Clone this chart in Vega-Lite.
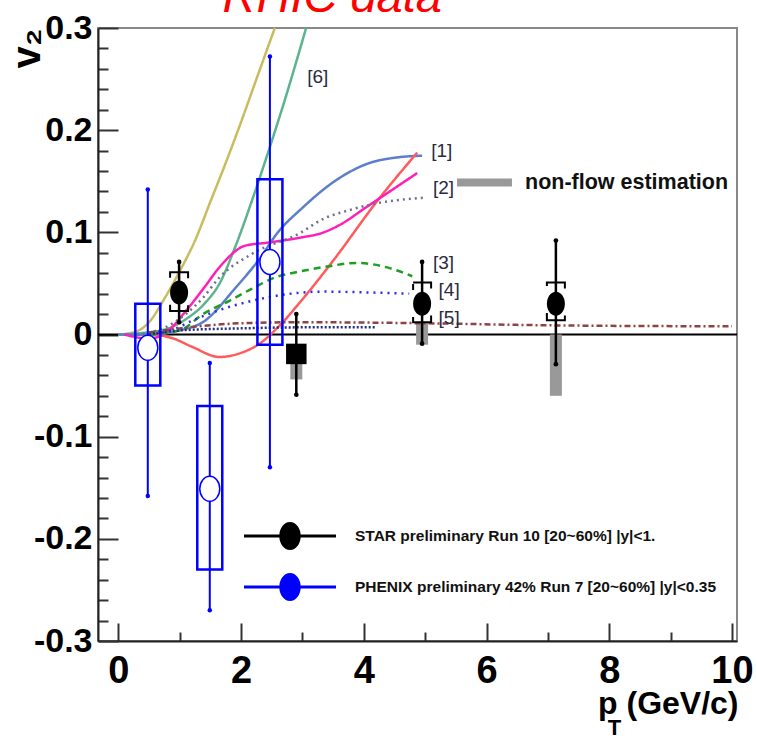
{
  "$schema": "https://vega.github.io/schema/vega-lite/v6.json",
  "width": 639,
  "height": 613,
  "autosize": {"type": "none"},
  "padding": {"left": 98, "top": 28, "right": 20, "bottom": 97},
  "background": "white",
  "config": {"view": {"stroke": "#888888", "strokeWidth": 2}},
  "datasets": {
    "curves": [
      {"c": "6a", "x": 0, "y": 0}, {"c": "6a", "x": 0.25, "y": 0.002}, {"c": "6a", "x": 0.5, "y": 0.012}, {"c": "6a", "x": 0.75, "y": 0.035}, {"c": "6a", "x": 1.0, "y": 0.062}, {"c": "6a", "x": 1.25, "y": 0.092}, {"c": "6a", "x": 1.5, "y": 0.13}, {"c": "6a", "x": 1.75, "y": 0.168}, {"c": "6a", "x": 2.0, "y": 0.208}, {"c": "6a", "x": 2.25, "y": 0.25}, {"c": "6a", "x": 2.55, "y": 0.3},
      {"c": "6b", "x": 0, "y": 0}, {"c": "6b", "x": 0.7, "y": 0.004}, {"c": "6b", "x": 1.1, "y": 0.015}, {"c": "6b", "x": 1.4, "y": 0.03}, {"c": "6b", "x": 1.65, "y": 0.05}, {"c": "6b", "x": 1.9, "y": 0.085}, {"c": "6b", "x": 2.2, "y": 0.135}, {"c": "6b", "x": 2.45, "y": 0.18}, {"c": "6b", "x": 2.71, "y": 0.229}, {"c": "6b", "x": 3.06, "y": 0.3},
      {"c": "1", "x": 0, "y": 0}, {"c": "1", "x": 0.5, "y": 0}, {"c": "1", "x": 1.0, "y": 0.004}, {"c": "1", "x": 1.4, "y": 0.013}, {"c": "1", "x": 1.9, "y": 0.045}, {"c": "1", "x": 2.3, "y": 0.074}, {"c": "1", "x": 2.6, "y": 0.1}, {"c": "1", "x": 3.0, "y": 0.124}, {"c": "1", "x": 3.5, "y": 0.149}, {"c": "1", "x": 4.1, "y": 0.168}, {"c": "1", "x": 4.5, "y": 0.173}, {"c": "1", "x": 4.95, "y": 0.175},
      {"c": "1r", "x": 0.6, "y": 0}, {"c": "1r", "x": 0.9, "y": -0.004}, {"c": "1r", "x": 1.2, "y": -0.012}, {"c": "1r", "x": 1.65, "y": -0.022}, {"c": "1r", "x": 2.0, "y": -0.018}, {"c": "1r", "x": 2.3, "y": -0.009}, {"c": "1r", "x": 2.6, "y": 0.007}, {"c": "1r", "x": 2.98, "y": 0.033}, {"c": "1r", "x": 3.51, "y": 0.073}, {"c": "1r", "x": 4.21, "y": 0.13}, {"c": "1r", "x": 4.87, "y": 0.178},
      {"c": "2", "x": 0.1, "y": 0}, {"c": "2", "x": 0.5, "y": -0.004}, {"c": "2", "x": 0.8, "y": 0.003}, {"c": "2", "x": 1.1, "y": 0.023}, {"c": "2", "x": 1.4, "y": 0.046}, {"c": "2", "x": 1.65, "y": 0.066}, {"c": "2", "x": 2.07, "y": 0.087}, {"c": "2", "x": 2.45, "y": 0.09}, {"c": "2", "x": 2.98, "y": 0.095}, {"c": "2", "x": 3.3, "y": 0.099}, {"c": "2", "x": 3.6, "y": 0.107}, {"c": "2", "x": 4.05, "y": 0.125}, {"c": "2", "x": 4.87, "y": 0.158},
      {"c": "2d", "x": 0.3, "y": 0}, {"c": "2d", "x": 0.8, "y": 0.008}, {"c": "2d", "x": 1.1, "y": 0.02}, {"c": "2d", "x": 1.38, "y": 0.036}, {"c": "2d", "x": 1.65, "y": 0.056}, {"c": "2d", "x": 2.18, "y": 0.079}, {"c": "2d", "x": 2.98, "y": 0.1}, {"c": "2d", "x": 3.3, "y": 0.112}, {"c": "2d", "x": 3.78, "y": 0.122}, {"c": "2d", "x": 4.1, "y": 0.127}, {"c": "2d", "x": 5.0, "y": 0.134},
      {"c": "3", "x": 0.5, "y": 0}, {"c": "3", "x": 1.0, "y": 0.004}, {"c": "3", "x": 1.38, "y": 0.02}, {"c": "3", "x": 1.81, "y": 0.033}, {"c": "3", "x": 2.18, "y": 0.045}, {"c": "3", "x": 2.61, "y": 0.057}, {"c": "3", "x": 2.82, "y": 0.06}, {"c": "3", "x": 3.35, "y": 0.066}, {"c": "3", "x": 3.89, "y": 0.07}, {"c": "3", "x": 4.42, "y": 0.065}, {"c": "3", "x": 4.79, "y": 0.057},
      {"c": "4", "x": 0.5, "y": 0}, {"c": "4", "x": 0.9, "y": 0.005}, {"c": "4", "x": 1.22, "y": 0.014}, {"c": "4", "x": 1.65, "y": 0.024}, {"c": "4", "x": 2.18, "y": 0.033}, {"c": "4", "x": 2.82, "y": 0.04}, {"c": "4", "x": 3.35, "y": 0.042}, {"c": "4", "x": 4.15, "y": 0.041}, {"c": "4", "x": 4.74, "y": 0.04},
      {"c": "5a", "x": 0.5, "y": 0.002}, {"c": "5a", "x": 1.0, "y": 0.006}, {"c": "5a", "x": 2.0, "y": 0.011}, {"c": "5a", "x": 3.0, "y": 0.012}, {"c": "5a", "x": 5.0, "y": 0.011}, {"c": "5a", "x": 7.0, "y": 0.009}, {"c": "5a", "x": 10.0, "y": 0.008},
      {"c": "5b", "x": 0.5, "y": 0}, {"c": "5b", "x": 1.0, "y": 0.004}, {"c": "5b", "x": 2.0, "y": 0.006}, {"c": "5b", "x": 3.0, "y": 0.007}, {"c": "5b", "x": 4.2, "y": 0.007}
    ],
    "star": [
      {"exp": "STAR preliminary Run 10 [20~60%] |y|<1.", "x": 0.99, "y": 0.041, "lo": 0.012, "hi": 0.071, "slo": 0.023, "shi": 0.061},
      {"exp": "STAR preliminary Run 10 [20~60%] |y|<1.", "x": 2.9, "y": -0.019, "lo": -0.059, "hi": 0.02, "slo": null, "shi": null},
      {"exp": "STAR preliminary Run 10 [20~60%] |y|<1.", "x": 4.95, "y": 0.03, "lo": -0.009, "hi": 0.071, "slo": 0.012, "shi": 0.051},
      {"exp": "STAR preliminary Run 10 [20~60%] |y|<1.", "x": 7.13, "y": 0.03, "lo": -0.029, "hi": 0.092, "slo": 0.014, "shi": 0.051}
    ],
    "phenix": [
      {"exp": "PHENIX preliminary 42% Run 7 [20~60%] |y|<0.35", "x": 0.48, "y": -0.013, "lo": -0.158, "hi": 0.142, "blo": -0.05, "bhi": 0.03},
      {"exp": "PHENIX preliminary 42% Run 7 [20~60%] |y|<0.35", "x": 1.49, "y": -0.151, "lo": -0.27, "hi": -0.028, "blo": -0.23, "bhi": -0.07},
      {"exp": "PHENIX preliminary 42% Run 7 [20~60%] |y|<0.35", "x": 2.47, "y": 0.071, "lo": -0.13, "hi": 0.272, "blo": -0.01, "bhi": 0.152}
    ],
    "nonflow": [
      {"nf": "non-flow estimation", "x": 2.9, "lo": -0.044, "hi": -0.028},
      {"nf": "non-flow estimation", "x": 4.95, "lo": -0.01, "hi": 0.012},
      {"nf": "non-flow estimation", "x": 7.13, "lo": -0.06, "hi": 0.0}
    ],
    "labels": [
      {"x": 3.25, "y": 0.252, "t": "[6]"},
      {"x": 5.27, "y": 0.18, "t": "[1]"},
      {"x": 5.3, "y": 0.143, "t": "[2]"},
      {"x": 5.3, "y": 0.07, "t": "[3]"},
      {"x": 5.39, "y": 0.044, "t": "[4]"},
      {"x": 5.39, "y": 0.016, "t": "[5]"}
    ]
  },
  "resolve": {"axis": {"x": "independent", "y": "independent"}},
  "layer": [
    {
      "data": {"values": [{}]},
      "mark": {"type": "rule", "color": "black", "strokeWidth": 2},
      "encoding": {"y": {"datum": 0, "type": "quantitative", "scale": {"domain": [-0.3, 0.3], "nice": false, "zero": false}, "axis": null}}
    },
    {
      "data": {"name": "nonflow"},
      "mark": {"type": "bar", "width": 12, "opacity": 1},
      "encoding": {
        "x": {"field": "x", "type": "quantitative", "scale": {"domain": [-0.25, 10], "nice": false, "zero": false}, "axis": null},
        "y": {"field": "lo", "type": "quantitative", "scale": {"domain": [-0.3, 0.3], "nice": false, "zero": false},
          "axis": {"orient": "left", "values": [-0.3, -0.2, -0.1, 0, 0.1, 0.2, 0.3], "ticks": false, "domain": false, "grid": false, "title": null,
            "labelExpr": "abs(datum.value) < 1e-9 ? '0' : (datum.value < 0 ? '-' + format(-datum.value, '.1f') : format(datum.value, '.1f'))",
            "labelFont": "Liberation Sans", "labelFontSize": 34, "labelFontWeight": "bold", "labelColor": "black",
            "labelPadding": 6, "labelOverlap": false, "labelFlush": false, "labelBaseline": "middle"}},
        "y2": {"field": "hi"},
        "fill": {"field": "nf", "type": "nominal", "scale": {"range": ["#999999"]}, "legend": {"orient": "none", "legendX": 368, "legendY": 136, "title": null, "padding": 0, "symbolType": "M -1.5,-0.22 L 1.5,-0.22 L 1.5,0.22 L -1.5,0.22 Z", "symbolSize": 1340, "symbolStrokeWidth": 0, "labelOffset": 22, "labelFont": "Liberation Sans", "labelFontSize": 21.5, "labelFontWeight": "bold", "labelColor": "#111111", "labelLimit": 600}}
      }
    },
    {
      "data": {"name": "curves"},
      "mark": {"type": "line", "interpolate": "monotone"},
      "encoding": {
        "x": {"field": "x", "type": "quantitative", "scale": {"domain": [-0.25, 10], "nice": false, "zero": false},
          "axis": {"orient": "bottom", "values": [0, 0.5, 1, 1.5, 2, 2.5, 3, 3.5, 4, 4.5, 5, 5.5, 6, 6.5, 7, 7.5, 8, 8.5, 9, 9.5, 10],
            "tickSize": {"condition": {"test": "datum.value % 2 === 0", "value": -18}, "value": -9},
            "tickWidth": 2, "tickColor": "#333333", "domainColor": "#222222", "domainWidth": 2, "grid": false,
            "labelExpr": "datum.value % 2 === 0 ? datum.label : ''", "format": "d",
            "labelFont": "Liberation Sans", "labelFontSize": 38, "labelFontWeight": "bold", "labelColor": "black",
            "labelPadding": 29, "labelOverlap": false, "labelFlush": false, "labelBaseline": "top",
            "title": "p   (GeV/c)", "titleFont": "Liberation Sans", "titleFontSize": 32, "titleFontWeight": "bold", "titleColor": "black",
            "titleAlign": "right", "titleAnchor": null, "titleX": 640, "titleY": 72, "titleBaseline": "alphabetic"}},
        "y": {"field": "y", "type": "quantitative", "scale": {"domain": [-0.3, 0.3], "nice": false, "zero": false},
          "axis": {"orient": "left", "values": [-0.3, -0.28, -0.26, -0.24, -0.22, -0.2, -0.18, -0.16, -0.14, -0.12, -0.1, -0.08, -0.06, -0.04, -0.02, 0, 0.02, 0.04, 0.06, 0.08, 0.1, 0.12, 0.14, 0.16, 0.18, 0.2, 0.22, 0.24, 0.26, 0.28, 0.3],
            "tickSize": {"condition": {"test": "abs(datum.value*10 - round(datum.value*10)) < 1e-6", "value": -20}, "value": -10},
            "tickWidth": 2, "tickColor": "#333333", "domainColor": "#222222", "domainWidth": 2, "grid": false, "labels": false,
            "title": "v₂", "titleFont": "Liberation Sans", "titleFontSize": 40, "titleFontWeight": "bold", "titleColor": "black",
            "titleAngle": -90, "titleAlign": "center", "titleBaseline": "middle", "titleAnchor": null, "titleX": -71, "titleY": 20}},
        "detail": {"field": "c"},
        "stroke": {"field": "c", "type": "nominal", "legend": null, "scale": {"domain": ["6a", "6b", "1", "1r", "2", "2d", "3", "4", "5a", "5b"], "range": ["#c8bc5e", "#5db38e", "#5b7fca", "#ff5b5b", "#ff1fb8", "#6e7088", "#1f9f1f", "#2b2bf0", "#8b4545", "#25307a"]}},
        "strokeDash": {"field": "c", "type": "nominal", "legend": null, "scale": {"domain": ["6a", "6b", "1", "1r", "2", "2d", "3", "4", "5a", "5b"], "range": [[1, 0], [1, 0], [1, 0], [1, 0], [1, 0], [2, 4], [7, 5], [2, 5], [6, 3, 2, 3], [2, 2]]}},
        "strokeWidth": {"field": "c", "type": "ordinal", "legend": null, "scale": {"domain": ["6a", "6b", "1", "1r", "2", "2d", "3", "4", "5a", "5b"], "range": [2.5, 2.5, 3, 3, 3.5, 2, 4, 2.5, 2, 2]}}
      }
    },
    {
      "data": {"name": "star"},
      "transform": [{"filter": "isValid(datum.slo)"}],
      "mark": {"type": "point", "shape": "M -0.75,0 A 0.75,1 0 1,0 0.75,0 A 0.75,1 0 1,0 -0.75,0 Z", "filled": true, "size": 576, "opacity": 1},
      "encoding": {
        "x": {"field": "x", "type": "quantitative", "scale": {"domain": [-0.25, 10], "nice": false, "zero": false}, "axis": null},
        "y": {"field": "y", "type": "quantitative", "scale": {"domain": [-0.3, 0.3], "nice": false, "zero": false}, "axis": null},
        "color": {"field": "exp", "type": "nominal", "scale": {"domain": ["STAR preliminary Run 10 [20~60%] |y|<1.", "PHENIX preliminary 42% Run 7 [20~60%] |y|<0.35"], "range": ["black", "#0000ff"]},
          "legend": {"orient": "none", "legendX": 172, "legendY": 488, "title": null, "padding": 0,
            "symbolType": "M -2.5,0 L 2.5,0 M -0.5,0 A 0.5,0.68 0 1,0 0.5,0 A 0.5,0.68 0 1,0 -0.5,0 Z", "symbolSize": 1354, "symbolStrokeWidth": 3,
            "labelOffset": 45, "rowPadding": 12, "labelFont": "Liberation Sans", "labelFontSize": 15.5, "labelFontWeight": "bold", "labelColor": "#111111", "labelLimit": 600,
            "encode": {"symbols": {
              "fill": {"condition": {"test": "indexof(datum.value, 'STAR') === 0", "value": "black"}, "value": "white"},
              "fillOpacity": {"condition": {"test": "indexof(datum.value, 'STAR') === 0", "value": 1}, "value": 0},
              "opacity": {"value": 1}}}}}
      }
    },
    {
      "data": {"name": "phenix"},
      "mark": {"type": "bar", "width": 25, "fill": "white", "fillOpacity": 0, "stroke": "#0000ff", "strokeWidth": 2.5},
      "encoding": {
        "x": {"field": "x", "type": "quantitative", "scale": {"domain": [-0.25, 10], "nice": false, "zero": false}, "axis": null},
        "y": {"field": "blo", "type": "quantitative", "scale": {"domain": [-0.3, 0.3], "nice": false, "zero": false}, "axis": null},
        "y2": {"field": "bhi"}
      }
    },
    {
      "data": {"name": "phenix"},
      "mark": {"type": "rule", "color": "#0000ff", "strokeWidth": 2},
      "encoding": {
        "x": {"field": "x", "type": "quantitative", "scale": {"domain": [-0.25, 10], "nice": false, "zero": false}, "axis": null},
        "y": {"field": "lo", "type": "quantitative", "scale": {"domain": [-0.3, 0.3], "nice": false, "zero": false}, "axis": null},
        "y2": {"field": "hi"}
      }
    },
    {
      "data": {"name": "phenix"},
      "mark": {"type": "point", "shape": "circle", "filled": true, "size": 20, "color": "#0000ff", "opacity": 1},
      "encoding": {
        "x": {"field": "x", "type": "quantitative", "scale": {"domain": [-0.25, 10], "nice": false, "zero": false}, "axis": null},
        "y": {"field": "lo", "type": "quantitative", "scale": {"domain": [-0.3, 0.3], "nice": false, "zero": false}, "axis": null}
      }
    },
    {
      "data": {"name": "phenix"},
      "mark": {"type": "point", "shape": "circle", "filled": true, "size": 20, "color": "#0000ff", "opacity": 1},
      "encoding": {
        "x": {"field": "x", "type": "quantitative", "scale": {"domain": [-0.25, 10], "nice": false, "zero": false}, "axis": null},
        "y": {"field": "hi", "type": "quantitative", "scale": {"domain": [-0.3, 0.3], "nice": false, "zero": false}, "axis": null}
      }
    },
    {
      "data": {"name": "phenix"},
      "mark": {"type": "point", "shape": "M -0.8,0 A 0.8,1 0 1,0 0.8,0 A 0.8,1 0 1,0 -0.8,0 Z", "filled": false, "fill": "white", "size": 625, "strokeWidth": 1.5, "opacity": 1},
      "encoding": {
        "x": {"field": "x", "type": "quantitative", "scale": {"domain": [-0.25, 10], "nice": false, "zero": false}, "axis": null},
        "y": {"field": "y", "type": "quantitative", "scale": {"domain": [-0.3, 0.3], "nice": false, "zero": false}, "axis": null},
        "color": {"field": "exp", "type": "nominal", "scale": {"domain": ["STAR preliminary Run 10 [20~60%] |y|<1.", "PHENIX preliminary 42% Run 7 [20~60%] |y|<0.35"], "range": ["black", "#0000ff"]}}
      }
    },
    {
      "data": {"name": "star"},
      "transform": [{"filter": "isValid(datum.slo)"}],
      "mark": {"type": "bar", "width": 18, "fill": "white", "fillOpacity": 0, "stroke": "black", "strokeWidth": 2, "strokeDash": [24, 27, 30, 27, 6]},
      "encoding": {
        "x": {"field": "x", "type": "quantitative", "scale": {"domain": [-0.25, 10], "nice": false, "zero": false}, "axis": null},
        "y": {"field": "slo", "type": "quantitative", "scale": {"domain": [-0.3, 0.3], "nice": false, "zero": false}, "axis": null},
        "y2": {"field": "shi"}
      }
    },
    {
      "data": {"name": "star"},
      "mark": {"type": "rule", "color": "black", "strokeWidth": 2.5},
      "encoding": {
        "x": {"field": "x", "type": "quantitative", "scale": {"domain": [-0.25, 10], "nice": false, "zero": false}, "axis": null},
        "y": {"field": "lo", "type": "quantitative", "scale": {"domain": [-0.3, 0.3], "nice": false, "zero": false}, "axis": null},
        "y2": {"field": "hi"}
      }
    },
    {
      "data": {"name": "star"},
      "mark": {"type": "point", "shape": "circle", "filled": true, "size": 22, "color": "black", "opacity": 1},
      "encoding": {
        "x": {"field": "x", "type": "quantitative", "scale": {"domain": [-0.25, 10], "nice": false, "zero": false}, "axis": null},
        "y": {"field": "lo", "type": "quantitative", "scale": {"domain": [-0.3, 0.3], "nice": false, "zero": false}, "axis": null}
      }
    },
    {
      "data": {"name": "star"},
      "mark": {"type": "point", "shape": "circle", "filled": true, "size": 22, "color": "black", "opacity": 1},
      "encoding": {
        "x": {"field": "x", "type": "quantitative", "scale": {"domain": [-0.25, 10], "nice": false, "zero": false}, "axis": null},
        "y": {"field": "hi", "type": "quantitative", "scale": {"domain": [-0.3, 0.3], "nice": false, "zero": false}, "axis": null}
      }
    },
    {
      "data": {"name": "star"},
      "transform": [{"filter": "!isValid(datum.slo)"}],
      "mark": {"type": "point", "shape": "square", "filled": true, "size": 420, "color": "black", "opacity": 1},
      "encoding": {
        "x": {"field": "x", "type": "quantitative", "scale": {"domain": [-0.25, 10], "nice": false, "zero": false},
          "axis": {"orient": "top", "title": "RHIC data", "domain": false, "ticks": false, "labels": false, "grid": false,
            "titleFont": "Liberation Sans", "titleFontSize": 47, "titleFontStyle": "italic", "titleFontWeight": "normal", "titleColor": "#ff0000",
            "titleX": 124, "titleY": -17, "titleAlign": "left", "titleAnchor": null, "titleBaseline": "alphabetic", "titleAngle": 0}},
        "y": {"field": "y", "type": "quantitative", "scale": {"domain": [-0.3, 0.3], "nice": false, "zero": false}, "axis": null}
      }
    },
    {
      "data": {"name": "labels"},
      "mark": {"type": "text", "font": "Liberation Sans", "fontSize": 19, "color": "#2a2a40", "align": "center", "baseline": "middle"},
      "encoding": {
        "x": {"field": "x", "type": "quantitative", "scale": {"domain": [-0.25, 10], "nice": false, "zero": false},
          "axis": {"orient": "bottom", "title": "T", "domain": false, "ticks": false, "labels": false, "grid": false,
            "titleFont": "Liberation Sans", "titleFontSize": 22, "titleFontWeight": "bold", "titleColor": "black",
            "titleX": 516, "titleY": 93, "titleAlign": "center", "titleAnchor": null, "titleBaseline": "alphabetic"}},
        "y": {"field": "y", "type": "quantitative", "scale": {"domain": [-0.3, 0.3], "nice": false, "zero": false}, "axis": null},
        "text": {"field": "t"}
      }
    }
  ]
}
